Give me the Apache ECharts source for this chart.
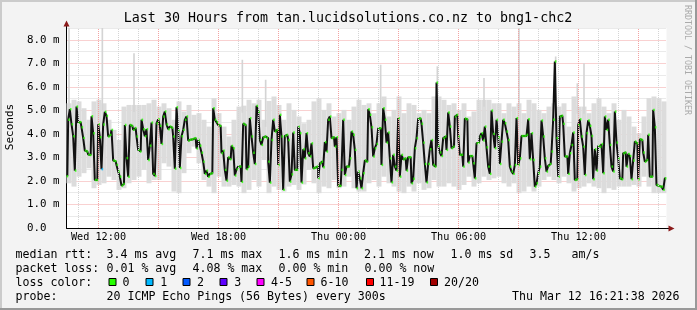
<!DOCTYPE html>
<html><head><meta charset="utf-8">
<script src="https://cdn.jsdelivr.net/npm/echarts@6/dist/echarts.min.js"></script>
<style>html,body{margin:0;padding:0;background:#f3f3f3}#c{width:697px;height:310px}</style>
</head><body><div id="c"></div>
<script>
// ---------------- data ----------------
const TITLE = 'Last 30 Hours from tan.lucidsolutions.co.nz to bng1-chc2';
const startHour = 10.4;          // Wed 10:24 (hours since Wed 00:00)
const spanHours = 30;
const stepMinutes = 5;           // one probe every 300 s
const tickHours = [12, 18, 24, 30, 36];
const tickLabels = ['Wed 12:00', 'Wed 18:00', 'Thu 00:00', 'Thu 06:00', 'Thu 12:00'];
const gridHours = [11,12,13,14,15,16,17,18,19,20,21,22,23,24,25,26,27,28,29,30,31,32,33,34,35,36,37,38,39,40];

// median rtt (ms), 5 minute samples
const median1 = [2.2,4.6,5.05,4.41,3.9,2.44,5.16,4.48,4.5,4.28,3.83,3.29,3.25,3.12,3.1,4.75,4.03,2.04,2.04,4.41,3.86,2.5,4.4,4.94,4.77,3.89,3.96,4.17,2.87,2.84,2.68,2.4,2.18,1.8,1.87,4.38,2.97,2.18,4.38,4.34,4.17,4.25,3.89,3.32,3.25,4.6,4.2,3.9,4.2,2.89,3.5,4.48,2.3,2.21,4.45,4.62,4.34,3.57,4.74,4.95];
const median2 = [4.4,4.2,4.31,4.26,3.89,2.52,5.13,4.14,2.55,3.9,4.17,4.6,4.74,3.72,3.75,3.77,3.8,3.82,3.38,3.74,3.5,3.2,2.82,2.3,2.44,2.18,2.3,2.33,5.09,4.6,4.5,4.38,4.34,3.18,3.29,2.47,2.01,3.0,2.92,3.49,3.39,2.23,2.5,2.61,2.61,1.96,4.43,4.38,2.5,2.61,4.67,3.89,3.2,2.72,5.19,4.94,3.74,3.53,3.86,3.89];
const median3 = [3.82,2.82,1.93,3.74,4.6,4.1,4.17,2.68,4.81,3.89,1.62,3.91,3.96,3.74,1.97,2.28,4.06,2.47,2.47,4.31,4.03,1.93,3.35,2.96,4.03,3.18,3.04,3.6,2.54,2.57,2.61,2.11,2.75,2.82,2.58,3.65,3.25,4.6,4.74,3.82,3.86,3.46,3.86,1.8,1.79,2.47,4.6,2.25,2.61,2.61,2.96,4.1,3.96,3.32,1.69,2.4,2.11,1.69,2.33,2.87];
const median4 = [2.82,5.05,4.81,4.28,3.04,3.39,3.57,4.24,4.24,2.68,5.09,4.6,3.63,4.06,2.96,1.94,3.11,2.61,2.44,4.67,2.18,3.11,2.92,2.96,2.44,3.01,3.01,1.9,2.09,3.39,3.82,4.65,4.65,4.43,3.63,2.72,1.94,2.72,3.35,3.74,2.68,2.61,6.18,3.49,3.21,3.06,3.82,3.89,3.32,4.91,4.31,3.39,3.46,4.74,4.81,3.89,3.11,3.11,2.61,4.65];
const median5 = [4.62,2.78,3.06,3.06,2.75,2.11,3.6,3.63,3.89,4.03,3.72,4.31,3.43,2.61,2.3,4.99,4.0,3.39,4.6,3.86,2.72,3.67,4.6,4.45,4.1,3.74,2.61,2.4,2.3,2.68,4.67,2.68,2.96,3.91,3.91,3.91,3.96,4.62,2.92,4.03,2.89,1.76,1.9,2.33,2.61,4.57,3.89,2.96,2.4,2.64,2.72,3.25,4.6,7.08,3.82,2.18,4.74,4.77,4.43,3.04];
const median6 = [3.04,2.3,3.18,3.53,4.06,2.04,2.07,4.38,4.62,3.89,3.46,2.25,4.03,4.57,4.34,3.91,2.07,3.35,2.44,3.49,3.46,3.57,2.33,4.74,4.17,4.6,3.53,2.61,2.4,4.95,3.63,2.96,2.11,2.07,3.18,3.21,2.61,3.15,3.06,2.07,2.87,3.67,3.6,2.07,3.77,3.74,3.21,2.82,2.89,3.96,2.18,2.18,5.02,4.28,1.83,1.79,1.76,1.76,1.62,2.11];

// smoke: lowest / highest ping (ms) per 15 minutes (3 samples)
const smokeLoMs = [
  1.9,1.76,2.18,2.33,2.54,1.69,1.83,1.9,2.18,2.04,1.62,1.69,1.9,2.04,2.18,2.47,1.9,2.04,2.04,2.75,
  2.61,1.55,1.48,2.33,3.18,3.46,2.75,2.04,1.76,1.48,2.18,1.76,1.76,1.83,1.76,1.48,1.62,2.04,1.76,2.89,
  1.48,1.76,1.62,1.55,1.76,1.83,1.62,1.85,2.47,1.9,1.48,1.76,1.69,2.04,1.69,1.76,2.18,1.69,1.55,1.55,
  1.9,2.04,1.76,2.18,1.9,1.76,1.55,1.48,1.76,1.55,1.9,1.62,1.69,2.04,1.76,1.76,1.9,1.76,1.62,1.83,
  2.18,1.76,1.9,2.18,2.04,2.11,2.18,1.9,1.76,1.9,1.48,1.55,1.76,1.55,1.76,2.04,2.18,2.04,1.9,2.18,
  1.9,1.55,1.69,1.76,1.9,1.76,1.69,1.48,1.69,1.62,1.76,1.76,1.76,1.83,1.76,2.18,1.76,1.48,1.48,1.48];
const smokeHiMs = [
  5.3,5.45,5.38,5.09,4.6,5.38,5.45,5.3,4.6,4.17,3.74,5.16,5.23,5.23,5.23,5.23,5.3,5.45,5.16,5.3,
  5.09,4.6,5.38,4.95,5.23,4.81,4.88,4.6,4.31,5.52,4.88,4.31,3.89,4.6,5.16,5.2,5.45,5.3,5.45,4.6,
  5.4,5.59,5.23,4.6,5.3,5.02,4.74,4.45,4.6,5.38,5.52,5.02,5.3,4.74,4.88,5.02,4.6,5.16,5.45,5.23,
  5.3,4.88,5.3,5.59,4.74,5.02,5.59,4.88,5.3,5.23,4.88,5.02,4.88,5.59,5.59,5.45,5.23,5.3,5.02,5.3,
  4.74,4.95,5.45,5.45,5.45,5.3,5.3,4.88,5.3,5.16,5.3,4.88,5.45,5.3,5.02,4.88,5.16,5.3,5.16,5.3,
  4.31,5.59,5.16,5.16,4.88,5.3,5.52,5.16,4.88,5.3,4.6,5.02,4.74,4.31,4.03,4.74,5.52,5.59,5.52,5.38];
// single-sample outliers of the smoke (sample index, highest ping ms)
const spikeIdx = [1, 21, 40, 105, 119, 188, 222, 250, 271, 293, 306, 310];
const spikeMs  = [8.5, 8.5, 7.43, 7.15, 6.3, 6.94, 6.87, 6.37, 8.5, 7.29, 6.15, 7.0];
// samples with 1/20 packet loss
const lossIdx = [21];

const lossLabels = ['0', '1', '2', '3', '4-5', '6-10', '11-19', '20/20'];
const lossColors = ['#26ff00', '#00b8ff', '#0059ff', '#5e00ff', '#ff00ff', '#ff5500', '#ff0000', '#a10000'];
const rttStats  = ['3.4 ms avg', '7.1 ms max', '1.6 ms min', '2.1 ms now', '1.0 ms sd', '3.5', 'am/s'];
const lossStats = ['0.01 % avg', '4.08 % max', '0.00 % min', '0.00 % now'];
const probeText = '20 ICMP Echo Pings (56 Bytes) every 300s';
const stampText = 'Thu Mar 12 16:21:38 2026';

// ---------------- chart ----------------
const medianMs = [].concat(median1, median2, median3, median4, median5, median6);
const FONT = '"DejaVu Sans Mono", "Liberation Mono", monospace';
const stepH = stepMinutes / 60;
const endHour = startHour + spanHours;
const tMid = i => startHour + (i + 0.5) * stepH;

const lineData = medianMs.map((v, i) => [tMid(i), v]);
const markerData = medianMs.map((v, i) => ({
  value: [tMid(i), v],
  itemStyle: { color: lossIdx.indexOf(i) >= 0 ? lossColors[1] : lossColors[0] }
}));
const smokeData = smokeLoMs.map((lo, g) => [startHour + g * 3 * stepH, startHour + (g + 1) * 3 * stepH, lo, smokeHiMs[g]]);
const spikeData = spikeIdx.map((idx, k) => [startHour + idx * stepH, startHour + (idx + 1) * stepH, smokeHiMs[Math.floor(idx / 3)] - 0.3, spikeMs[k]]);

const gridLines = gridHours.map(h => ({
  xAxis: h,
  lineStyle: { color: h % 3 === 0 ? '#f2a3a3' : '#d4d4d4', type: [1, 1], width: 1 }
}));

function rectRender(fill) {
  return function (params, api) {
    const a = api.coord([api.value(0), api.value(3)]);
    const b = api.coord([api.value(1), api.value(2)]);
    return { type: 'rect', shape: { x: a[0], y: a[1], width: b[0] - a[0], height: b[1] - a[1] }, style: { fill: fill } };
  };
}

const graphics = [];
// frame
graphics.push({ type: 'rect', shape: { x: 0, y: 0, width: 697, height: 2 }, style: { fill: '#cbcbcb' }, silent: true });
graphics.push({ type: 'rect', shape: { x: 0, y: 0, width: 2, height: 310 }, style: { fill: '#cbcbcb' }, silent: true });
graphics.push({ type: 'rect', shape: { x: 0, y: 308, width: 697, height: 2 }, style: { fill: '#999999' }, silent: true });
graphics.push({ type: 'rect', shape: { x: 695, y: 0, width: 2, height: 310 }, style: { fill: '#999999' }, silent: true });
// title
graphics.push({ type: 'text', x: 348, y: 19, style: { text: TITLE, font: '13.3px ' + FONT, fill: '#000', align: 'center', verticalAlign: 'middle' }, silent: true });
// y axis unit
graphics.push({ type: 'text', x: 10.5, y: 127, rotation: Math.PI / 2, style: { text: 'Seconds', font: '11px ' + FONT, fill: '#000', align: 'center', verticalAlign: 'middle' }, silent: true });
// watermark
graphics.push({ type: 'text', x: 687.5, y: 60, rotation: -Math.PI / 2, style: { text: 'RRDTOOL / TOBI OETIKER', font: '8.3px ' + FONT, fill: '#aaaaaa', align: 'center', verticalAlign: 'middle' }, silent: true });
// axis extensions and arrows
graphics.push({ type: 'line', shape: { x1: 66.5, y1: 28, x2: 66.5, y2: 23 }, style: { stroke: '#000', lineWidth: 1 }, silent: true });
graphics.push({ type: 'polygon', shape: { points: [[63.5, 26.5], [66.5, 20.5], [69.5, 26.5]] }, style: { fill: '#8b1a1a' }, silent: true });
graphics.push({ type: 'line', shape: { x1: 666.5, y1: 228.5, x2: 669, y2: 228.5 }, style: { stroke: '#000', lineWidth: 1 }, silent: true });
graphics.push({ type: 'polygon', shape: { points: [[668.5, 225.5], [674.5, 228.5], [668.5, 231.5]] }, style: { fill: '#8b1a1a' }, silent: true });

// legend
const LF = '11.6px ' + FONT;
function ltext(x, y, s) {
  graphics.push({ type: 'text', x: x, y: y, style: { text: s, font: LF, fill: '#000', align: 'left', verticalAlign: 'middle' }, silent: true });
}
const rttX = [106.5, 192.5, 278.5, 364, 450.5, 529.5, 571.5];
ltext(15.5, 254.5, 'median rtt:');
rttStats.forEach((s, i) => ltext(rttX[i], 254.5, s));
const lossX = [106.5, 192.5, 278.5, 364.5];
ltext(15.5, 268.5, 'packet loss:');
lossStats.forEach((s, i) => ltext(lossX[i], 268.5, s));
ltext(15.5, 282.5, 'loss color:');
const swX = [108.5, 145.5, 182.5, 219.5, 256.5, 306.5, 366, 430];
const swLabelX = [122.5, 160.3, 197, 234.3, 271, 320.6, 379.6, 444];
lossLabels.forEach((s, i) => {
  graphics.push({ type: 'rect', shape: { x: swX[i] + 0.5, y: 278.5, width: 7, height: 7 }, style: { fill: lossColors[i], stroke: '#000', lineWidth: 1 }, silent: true });
  ltext(swLabelX[i], 282.5, s);
});
ltext(15.5, 296.5, 'probe:');
ltext(106.5, 296.5, probeText);
ltext(512, 296.5, stampText);

const chart = echarts.init(document.getElementById('c'), null, { renderer: 'canvas', width: 697, height: 310 });
chart.setOption({
  animation: false,
  backgroundColor: '#f3f3f3',
  grid: { left: 66.5, right: 30.5, top: 28, bottom: 82, show: true, backgroundColor: '#ffffff', borderWidth: 0 },
  xAxis: {
    type: 'value', min: startHour, max: endHour,
    axisLine: { show: true, lineStyle: { color: '#000', width: 1 } },
    axisTick: { show: false },
    splitLine: { show: false },
    axisLabel: {
      customValues: tickHours,
      formatter: v => tickLabels[tickHours.indexOf(v)] || '',
      margin: 4, color: '#000', fontFamily: FONT, fontSize: 10.2
    }
  },
  yAxis: {
    type: 'value', min: 0, max: 8.5, interval: 0.5,
    axisLine: { show: true, lineStyle: { color: '#000', width: 1 } },
    axisTick: { show: false },
    axisLabel: {
      formatter: v => Math.abs(v - Math.round(v)) < 1e-6 ? (v === 0 ? '0.0' : v.toFixed(1) + ' m') : '',
      align: 'left', margin: 39.5, color: '#000', fontFamily: FONT, fontSize: 10.8
    },
    splitLine: { show: true, lineStyle: { color: ['#f2a3a3', '#d4d4d4'], type: [1, 1], width: 1 } }
  },
  graphic: graphics,
  series: [
    { type: 'line', data: [], silent: true, z: 1,
      markLine: { silent: true, symbol: 'none', label: { show: false }, animation: false, data: gridLines } },
    { type: 'custom', data: smokeData, renderItem: rectRender('#dcdcdc'), encode: { x: [0, 1], y: [2, 3] }, silent: true, z: 2, clip: true },
    { type: 'custom', data: spikeData, renderItem: rectRender('#d4d4d4'), encode: { x: [0, 1], y: [2, 3] }, silent: true, z: 2, clip: true },
    { type: 'line', data: lineData, step: 'middle', showSymbol: false, silent: true, z: 3,
      lineStyle: { color: '#111111', width: 2 } },
    { type: 'scatter', data: markerData, symbol: 'rect', symbolSize: [1.6, 2.4], silent: true, z: 4 }
  ]
});
</script>
</body></html>
